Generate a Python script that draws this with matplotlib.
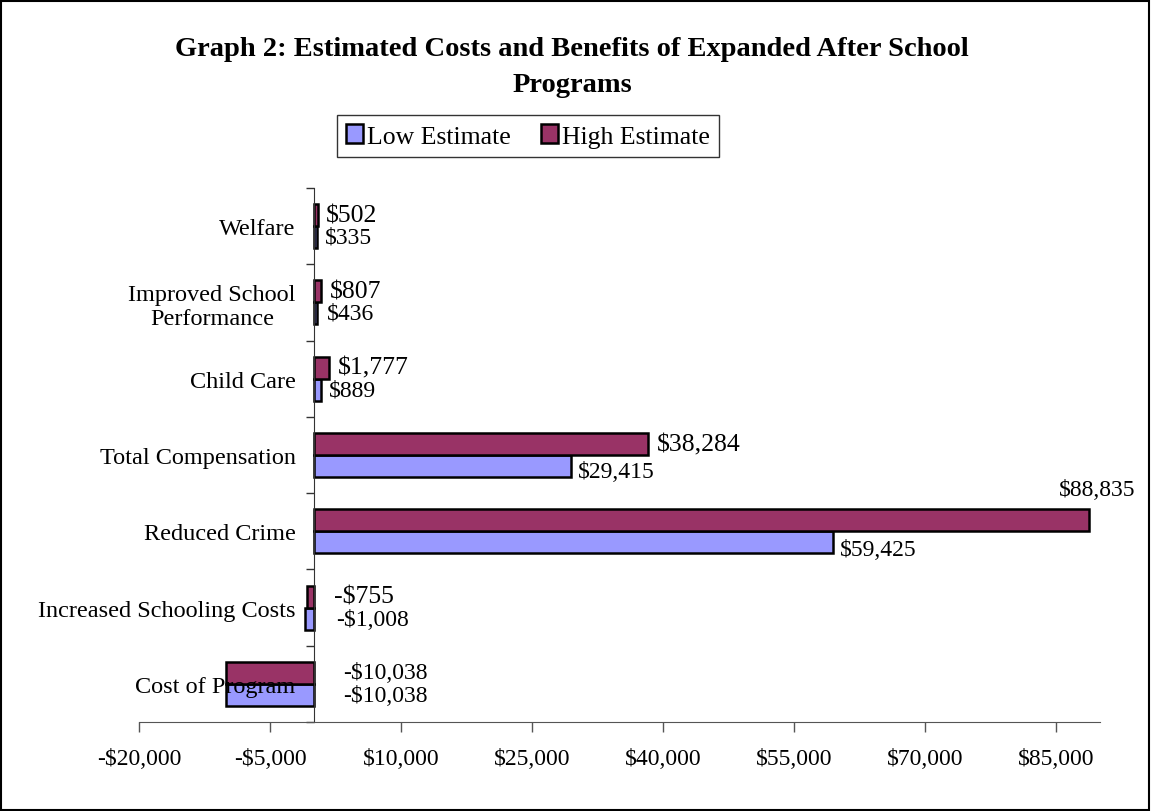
import matplotlib
matplotlib.use("Agg")
import matplotlib.pyplot as plt
from matplotlib.patches import Rectangle, Patch
from matplotlib.ticker import FuncFormatter
import numpy as np

plt.rcParams['font.family'] = ['Liberation Serif', 'DejaVu Serif']

# data (bottom to top as drawn)
categories = ["Cost of Program", "Increased Schooling Costs", "Reduced Crime",
              "Total Compensation", "Child Care", "Improved School\nPerformance", "Welfare"]
low_estimate = [-10038, -1008, 59425, 29415, 889, 436, 335]
high_estimate = [-10038, -755, 88835, 38284, 1777, 807, 502]
x_ticks = [-20000, -5000, 10000, 25000, 40000, 55000, 70000, 85000]

LOW_COLOR = "#9999FF"
HIGH_COLOR = "#993366"


def money(v):
    if v < 0:
        return "-${:,}".format(-v)
    return "${:,}".format(v)


fig = plt.figure(figsize=(11.51, 8.12), dpi=100)
ax = fig.add_axes([139 / 1151, 89 / 812, 960.6 / 1151, 534 / 812])

y = np.arange(len(categories))
h = 0.288
ax.barh(y - h / 2, low_estimate, height=h, color=LOW_COLOR, edgecolor="black", linewidth=1.8)
ax.barh(y + h / 2, high_estimate, height=h, color=HIGH_COLOR, edgecolor="black", linewidth=1.8)

ax.set_xlim(-20000, 90000)
ax.set_ylim(-0.5, len(categories) - 0.5)

# axes styling, excel look
ax.spines['top'].set_visible(False)
ax.spines['right'].set_visible(False)
ax.spines['left'].set_position(('data', 0))
ax.spines['left'].set_color("#333333")
ax.spines['bottom'].set_color("#555555")

ax.set_xticks(x_ticks)
ax.xaxis.set_major_formatter(FuncFormatter(lambda v, p: money(int(v))))
ax.tick_params(axis='x', direction='out', length=7, width=1, color="#555555",
               labelsize=17, pad=12)

ax.set_yticks(y)
ax.set_yticklabels(categories, fontsize=17.5)
ax.set_yticks(np.arange(-0.5, len(categories), 1.0), minor=True)
ax.tick_params(axis='y', which='major', length=0, pad=13)
ax.tick_params(axis='y', which='minor', direction='out', length=6, width=1, color="#333333")
for lbl in ax.get_yticklabels():
    lbl.set_multialignment('center')

# data labels (offset in pixels, tweaked per label like the original)
low_offsets = [(29, -1), (22, -1), (7, -7), (7, -6), (8, 0), (9, 0), (8, 0)]
high_offsets = [(29, 0), (20, 0), (-30, 31), (9, 0), (9, 0), (9, 0), (8, 0)]
low_sizes = [17, 17, 17, 17, 17, 17, 17]
high_sizes = [17, 18.5, 17, 18.5, 18.5, 18.5, 18.5]

for i in range(len(categories)):
    for vals, offs, sizes, yy in ((low_estimate, low_offsets, low_sizes, y - h / 2),
                                  (high_estimate, high_offsets, high_sizes, y + h / 2)):
        v = vals[i]
        ax.annotate(money(v), xy=(max(v, 0), yy[i]), xytext=offs[i],
                    textcoords='offset pixels', ha='left', va='center',
                    fontsize=sizes[i])

fig.suptitle("Graph 2: Estimated Costs and Benefits of Expanded After School\nPrograms",
             x=0.497, y=1 - 67.5 / 812, va='center', fontsize=20.5, fontweight='bold',
             linespacing=1.55)

handles = [Patch(facecolor=LOW_COLOR, edgecolor="black", linewidth=1.8),
           Patch(facecolor=HIGH_COLOR, edgecolor="black", linewidth=1.8)]
leg = fig.legend(handles, ["Low Estimate", "High Estimate"], ncol=2,
                 loc='center', bbox_to_anchor=(528 / 1151, 1 - 137 / 812),
                 fontsize=18.5, frameon=True, fancybox=False, edgecolor="black",
                 handlelength=0.65, handleheight=0.75, handletextpad=0.15,
                 columnspacing=1.2, borderpad=0.35, borderaxespad=0)
leg.get_frame().set_linewidth(1.0)

# border round the whole chart
fig.patches.append(Rectangle((0.001, 0.001), 0.997, 0.997, transform=fig.transFigure,
                             fill=False, edgecolor="black", linewidth=1.5))

plt.savefig("out.png", dpi=100)
